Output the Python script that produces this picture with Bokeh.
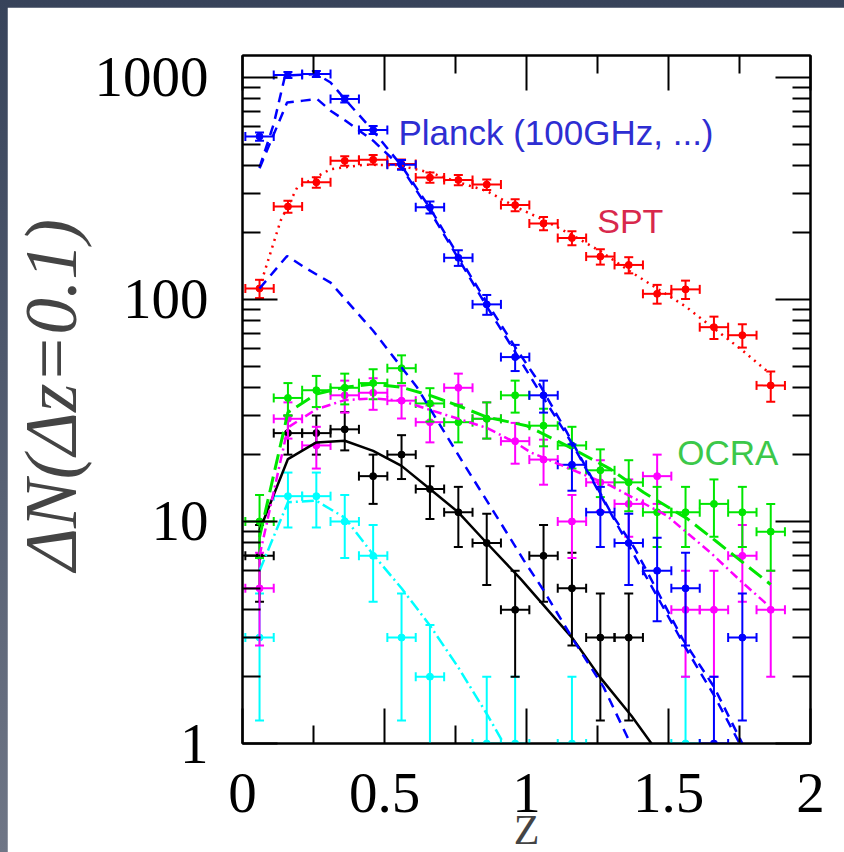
import numpy as np
from bokeh.plotting import figure
from bokeh.models import (FixedTicker, LinearAxis, LogAxis, Label, CustomJSTickFormatter,
                          Range1d, ColumnDataSource)
from bokeh.layouts import column
from bokeh.embed import file_html
from bokeh.resources import INLINE

# ---------------- data ----------------
z_centers = [0.06, 0.16, 0.26, 0.36, 0.46, 0.56, 0.66, 0.76, 0.86, 0.96,
             1.06, 1.16, 1.26, 1.36, 1.46, 1.56, 1.66, 1.76, 1.86]
bin_half_width = 0.05

planck_counts = [542, 1025, 1036, 799, 580, 404, 260, 154, 95, 55, 37, 18, 11, 8, 6, 5, 1, 3, 0]
spt_counts = [112, 262, 337, 421, 426, 407, 354, 345, 329, 266, 220, 189, 156, 143, 106, 111, 75, 69, 41]
ocra_counts = [10, 36, 39, 40, 42, 49, 34, 28, 29, 37, 27, 22, 17, 15, 11, 11, 12, 11, 9]
magenta_counts = [5, 29, 22, 37, 38, 35, 28, 40, 29, 23, 19, 10, 15, 12, 16, 4, 4, 7, 4]
black_counts = [7, 25, 25, 26, 16, 20, 14, 11, 8, 4, 7, 5, 3, 3, 0, 0, 0, 0, 0]
cyan_counts = [3, 13, 13, 10, 7, 3, 2, 0, 1, 1, 0, 1, 0, 0, 0, 1, 0, 0, 0]

# model curves
blue_upper_z = [0.06, 0.11, 0.15, 0.26, 0.31, 0.36, 0.46, 0.56, 0.66, 0.76, 0.86, 0.96,
                1.03, 1.14, 1.21, 1.30, 1.38, 1.42, 1.55, 1.66, 1.76, 1.80]
blue_upper_n = [393, 617, 1018, 1036, 949, 799, 575, 400, 258, 157, 97, 61,
                45, 25.5, 17.5, 10.8, 7.6, 6.1, 2.95, 1.8, 1.0, 0.8]
blue_mid_z = [0.06, 0.157, 0.214, 0.263, 0.31, 0.363, 0.46, 0.56, 0.66, 0.76, 0.86, 0.96,
              1.06, 1.16, 1.26, 1.36, 1.46, 1.56, 1.66, 1.76, 1.80]
blue_mid_n = [390, 771, 786, 799, 708, 638, 519, 393, 250, 153, 93, 58,
              36, 22.5, 13.2, 7.8, 4.6, 2.7, 1.65, 0.95, 0.8]
blue_low_z = [0.06, 0.157, 0.22, 0.31, 0.46, 0.615, 0.78, 0.908, 0.99, 1.06, 1.167, 1.272, 1.366, 1.40]
blue_low_n = [112, 157, 139, 119, 72.3, 40.1, 18.1, 9.9, 6.7, 4.9, 2.9, 1.79, 1.0, 0.85]
red_curve_z = [0.06, 0.134, 0.193, 0.31, 0.427, 0.545, 0.66, 0.78, 0.86, 0.96, 1.06, 1.16,
               1.26, 1.36, 1.46, 1.56, 1.66, 1.76, 1.86]
red_curve_n = [113, 226, 320, 386, 404, 403, 373, 331, 308, 262, 228, 195,
               165, 135, 112, 93, 74, 59, 46]
black_curve_z = [0.06, 0.16, 0.26, 0.36, 0.46, 0.56, 0.66, 0.76, 0.86, 0.98, 1.16, 1.26, 1.37, 1.44, 1.47]
black_curve_n = [9.1, 19.1, 22.7, 23.1, 20.8, 17.8, 14.0, 11.0, 8.0, 5.5, 3.0, 1.98, 1.33, 1.0, 0.9]
green_curve_z = [0.06, 0.16, 0.26, 0.36, 0.46, 0.56, 0.66, 0.76, 0.86, 1.0, 1.143, 1.296,
                 1.413, 1.566, 1.67, 1.86]
green_curve_n = [8.5, 31, 37.5, 40.2, 41.6, 40.2, 37, 33.2, 29.5, 27, 21.9, 17.2,
                 13.5, 10.3, 8.1, 5.2]
magenta_curve_z = [0.06, 0.16, 0.26, 0.36, 0.46, 0.56, 0.66, 0.76, 0.86, 0.96, 1.014, 1.097,
                   1.296, 1.495, 1.65, 1.754, 1.85]
magenta_curve_n = [7, 26.5, 32, 35.2, 35.8, 35, 31.8, 29, 26.4, 22.7, 20.5, 18.5,
                   14.5, 10.6, 7.2, 5.4, 4.2]
cyan_curve_z = [0.06, 0.16, 0.26, 0.36, 0.46, 0.56, 0.66, 0.76, 0.86, 0.92, 0.95]
cyan_curve_n = [6.0, 12.2, 12.4, 10.4, 7.1, 5.0, 3.4, 2.2, 1.36, 1.0, 0.9]

x_major = [0, 0.5, 1, 1.5, 2]
x_minor = [0.25, 0.75, 1.25, 1.75]
y_major = [1, 10, 100, 1000]

# ---------------- figure ----------------
p = figure(width=837, height=845, title=None,
           x_range=Range1d(0, 2), y_range=Range1d(1, 1255), y_axis_type="log",
           output_backend="svg", toolbar_location=None,
           min_border_left=235, min_border_right=34, min_border_top=48, min_border_bottom=109)
p.background_fill_color = "white"
p.border_fill_color = "white"
p.grid.visible = False
p.outline_line_color = "black"
p.outline_line_width = 2

y_minor = [m * d for d in [1, 10, 100, 1000] for m in range(2, 10)]
xt = FixedTicker(ticks=x_major, minor_ticks=x_minor)
yt = FixedTicker(ticks=y_major, minor_ticks=y_minor)
fmt = CustomJSTickFormatter(code="return tick.toString();")
blank = CustomJSTickFormatter(code="return '';")

bottom_axis = p.below[0]
left_axis = p.left[0]
top_axis = LinearAxis(ticker=xt)
right_axis = LogAxis(ticker=yt)
p.add_layout(top_axis, "above")
p.add_layout(right_axis, "right")

bottom_axis.ticker = xt
left_axis.ticker = yt
for ax in [bottom_axis, left_axis, top_axis, right_axis]:
    ax.axis_line_width = 2
    ax.major_tick_line_width = 2
    ax.minor_tick_line_width = 2
    ax.major_tick_in = 35
    ax.major_tick_out = 0
    ax.minor_tick_in = 18
    ax.minor_tick_out = 0
for ax in [bottom_axis, left_axis]:
    ax.formatter = fmt
    ax.major_label_text_font = "Liberation Serif"
    ax.major_label_text_font_size = "57px"
    ax.major_label_text_color = "black"
for ax in [top_axis, right_axis]:
    ax.formatter = blank
    ax.major_label_text_color = None
    ax.major_label_text_font_size = "1px"
    ax.major_label_standoff = 0
bottom_axis.major_label_standoff = 30
left_axis.major_label_standoff = 34


def draw_points(counts, color):
    zz = [z for z, n in zip(z_centers, counts) if n > 0]
    nn = [n for n in counts if n > 0]
    err = [float(np.sqrt(n)) for n in nn]
    src = ColumnDataSource(dict(
        z=zz, n=nn,
        lo=[max(n - e, 0.3) for n, e in zip(nn, err)],
        hi=[n + e for n, e in zip(nn, err)],
        zl=[z - bin_half_width for z in zz],
        zr=[z + bin_half_width for z in zz]))
    p.segment(x0="z", y0="lo", x1="z", y1="hi", source=src, line_color=color, line_width=2)
    p.segment(x0="zl", y0="n", x1="zr", y1="n", source=src, line_color=color, line_width=2)
    p.scatter(x="z", y="hi", source=src, marker="dash", size=9, line_color=color, line_width=2)
    p.scatter(x="z", y="lo", source=src, marker="dash", size=9, line_color=color, line_width=2)
    p.scatter(x="zl", y="n", source=src, marker="dash", angle=np.pi / 2, size=9,
              line_color=color, line_width=2)
    p.scatter(x="zr", y="n", source=src, marker="dash", angle=np.pi / 2, size=9,
              line_color=color, line_width=2)
    p.scatter(x="z", y="n", source=src, marker="circle", size=7, fill_color=color,
              line_color=color)


BLUE = "#0000ff"
RED = "#ff0000"
GREEN = "#00e600"
MAGENTA = "#ff00ff"
CYAN = "#00ffff"
BLACK = "#000000"

draw_points(cyan_counts, CYAN)
draw_points(black_counts, BLACK)
draw_points(magenta_counts, MAGENTA)
draw_points(ocra_counts, GREEN)
draw_points(spt_counts, RED)
draw_points(planck_counts, BLUE)

p.line(cyan_curve_z, cyan_curve_n, line_color=CYAN, line_width=2.5, line_dash="12 4 2 4")
p.line(black_curve_z, black_curve_n, line_color=BLACK, line_width=2.5)
p.line(magenta_curve_z, magenta_curve_n, line_color=MAGENTA, line_width=2.5, line_dash="9 4 2 4")
p.line(green_curve_z, green_curve_n, line_color=GREEN, line_width=3, line_dash="16 7")
p.line(red_curve_z, red_curve_n, line_color=RED, line_width=2.5, line_dash="2 5")
p.line(blue_low_z, blue_low_n, line_color=BLUE, line_width=2.5, line_dash="10 7")
p.line(blue_mid_z, blue_mid_n, line_color=BLUE, line_width=2.5, line_dash="10 7")
p.line(blue_upper_z, blue_upper_n, line_color=BLUE, line_width=2.5, line_dash="10 7")

# series names
p.add_layout(Label(x=0.549, y=565, text="Planck (100GHz, ...)", text_font="Liberation Sans",
                   text_font_size="35px", text_color="#2e2ed2", text_align="left",
                   text_baseline="alphabetic"))
p.add_layout(Label(x=1.249, y=226, text="SPT", text_font="Liberation Sans",
                   text_font_size="34px", text_color="#d8284c", text_align="left",
                   text_baseline="alphabetic"))
p.add_layout(Label(x=1.531, y=20.5, text="OCRA", text_font="Liberation Sans",
                   text_font_size="35px", text_color="#3cc84a", text_align="left",
                   text_baseline="alphabetic"))

# axis titles: placed in side panels (not clipped to the frame), sized to fit the borders
p.add_layout(Label(x=-0.672, y=37.2, text="ΔN(Δz=0.1)", angle=np.pi / 2,
                   text_font="Liberation Serif", text_font_style="italic",
                   text_font_size="73px", text_align="center", text_baseline="middle"), "left")
p.add_layout(Label(x=1.0, y=0.515, text="Z", text_font="Liberation Serif",
                   text_font_size="42px", text_align="center", text_baseline="top"), "right")

page = column(p, styles={"background": "linear-gradient(180deg, #37435a, #6f7686)",
                         "padding": "7px 0px 0px 7px"})
open("out.html", "w").write(file_html(page, INLINE))
